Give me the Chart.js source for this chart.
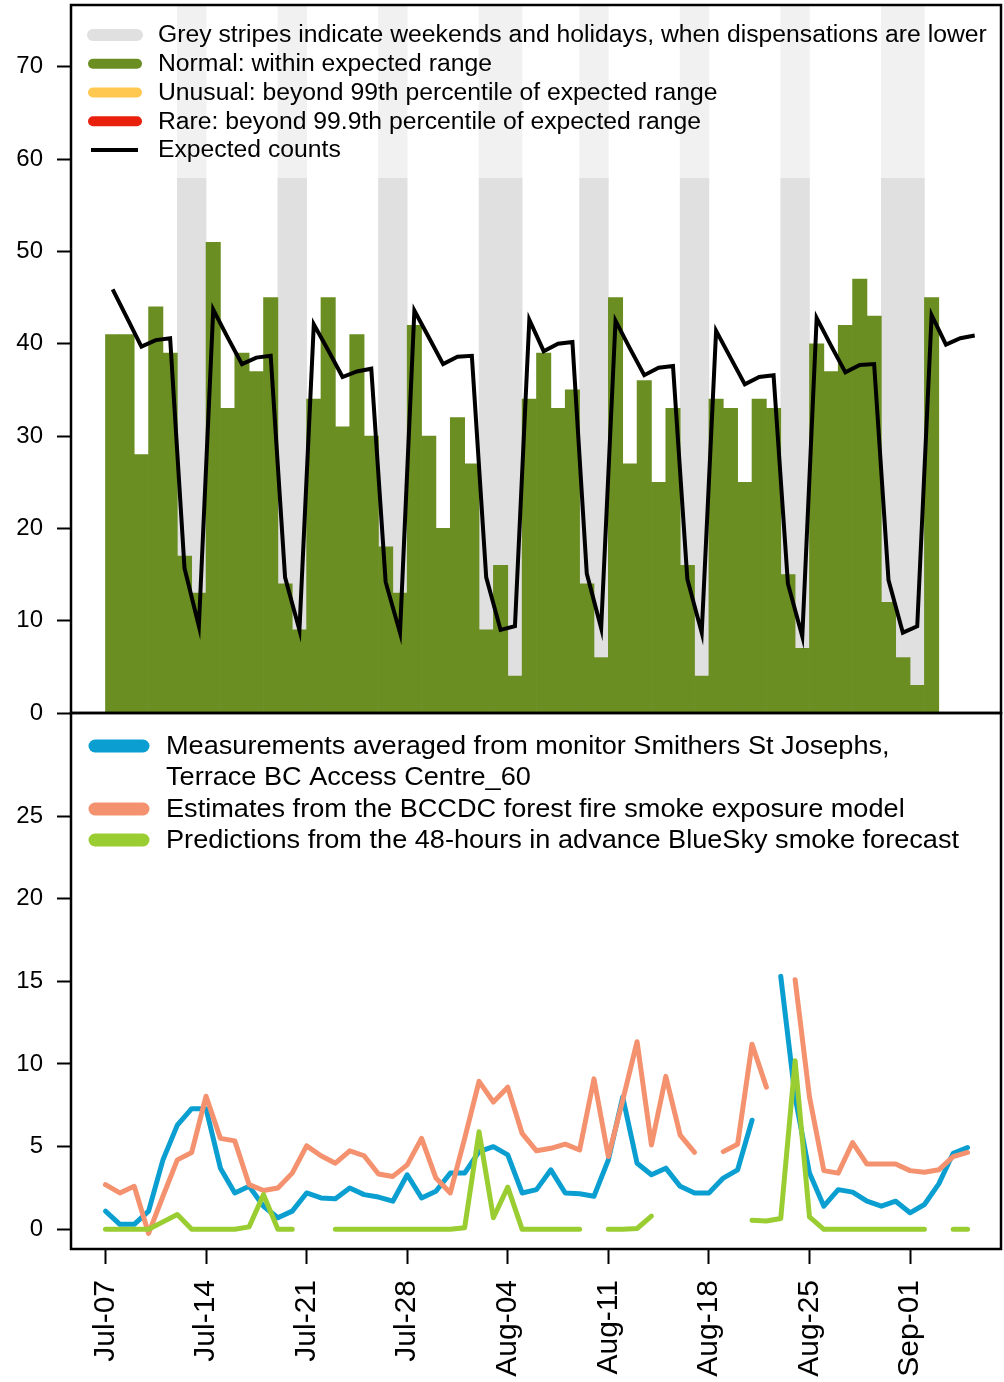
<!DOCTYPE html>
<html>
<head>
<meta charset="utf-8">
<title>Dispensations and smoke</title>
<script src="https://cdn.jsdelivr.net/npm/chart.js@4.4.1/dist/chart.umd.min.js"></script>
<style>
  html, body { margin: 0; padding: 0; background: #fff; }
  #wrap { position: relative; width: 1004px; height: 1382px; overflow: hidden; }
  #top { position: absolute; left: 0; top: 0; }
  #bottom { position: absolute; left: 0; top: 700px; }
</style>
</head>
<body>
<div id="wrap">
  <canvas id="top" width="1004" height="730"></canvas>
  <canvas id="bottom" width="1004" height="682"></canvas>
</div>
<script>
// ---- data (day index 0 = Jul-07) ----
const tickDays = [0, 7, 14, 21, 28, 35, 42, 49, 56];
const tickLabels = ['Jul-07', 'Jul-14', 'Jul-21', 'Jul-28', 'Aug-04', 'Aug-11', 'Aug-18', 'Aug-25', 'Sep-01'];
const topTicks = [0, 10, 20, 30, 40, 50, 60, 70];
const bottomTicks = [0, 5, 10, 15, 20, 25];

// weekends and holidays
const offDays = [5, 6, 12, 13, 19, 20, 26, 27, 28, 33, 34, 40, 41, 47, 48, 54, 55, 56];

// daily dispensation counts
const counts = [41, 41, 28, 44, 39, 17, 13, 51, 33, 39, 37, 45, 14, 9, 34, 45, 31, 41, 30, 18,
                13, 42, 30, 20, 32, 27, 9, 16, 4, 34, 39, 33, 35, 14, 6, 45, 27, 36, 25, 33,
                16, 4, 34, 33, 25, 34, 33, 15, 7, 40, 37, 42, 47, 43, 12, 6, 3, 45];

// expected counts
const expected = [45.9, 42.8, 39.7, 40.4, 40.6, 15.7, 9.4, 43.7, 40.7, 37.8, 38.5, 38.7, 14.7, 9.0, 42.1, 39.3,
                  36.4, 37.0, 37.3, 14.2, 8.7, 43.6, 40.7, 37.8, 38.6, 38.7, 14.7, 9.0, 9.4, 42.6, 39.2, 40.0,
                  40.2, 15.1, 9.2, 42.5, 39.5, 36.6, 37.4, 37.6, 14.5, 8.7, 41.4, 38.5, 35.6, 36.4, 36.6, 14.0,
                  8.3, 42.8, 39.8, 36.9, 37.7, 37.8, 14.4, 8.7, 9.4, 43.1, 39.9, 40.6, 40.9];

// PM2.5 series
const measured = [1.1, 0.3, 0.3, 1.1, 4.2, 6.3, 7.3, 7.3, 3.7, 2.2, 2.6, 1.4, 0.7, 1.1, 2.2, 1.9,
                  1.85, 2.5, 2.1, 1.95, 1.7, 3.3, 1.9, 2.3, 3.4, 3.4, 4.7, 5.0, 4.5, 2.2, 2.4, 3.6,
                  2.2, 2.15, 2.0, 4.2, 8.0, 4.0, 3.3, 3.7, 2.6, 2.2, 2.2, 3.1, 3.6, 6.6, null, 15.3,
                  8.0, 3.4, 1.4, 2.4, 2.25, 1.7, 1.4, 1.7, 1.0, 1.5, 2.75, 4.6, 4.95];
const modelled = [2.7, 2.2, 2.6, -0.25, 2.0, 4.2, 4.65, 8.05, 5.5, 5.35, 2.7, 2.35, 2.5, 3.4, 5.05, 4.45,
                  4.0, 4.75, 4.45, 3.35, 3.2, 3.9, 5.5, 3.1, 2.2, 5.5, 8.95, 7.7, 8.6, 5.8, 4.75, 4.9,
                  5.15, 4.8, 9.1, 4.4, 7.8, 11.35, 5.1, 9.25, 5.7, 4.65, null, 4.7, 5.15, 11.2, 8.6, null,
                  15.1, 8.0, 3.55, 3.4, 5.25, 3.95, 3.95, 3.95, 3.55, 3.45, 3.6, 4.4, 4.65];
const forecast = [0, 0, 0, 0, 0.45, 0.9, 0, 0, 0, 0, 0.15, 2.1, 0, 0, null, null,
                  0, 0, 0, 0, 0, 0, 0, 0, 0, 0.1, 5.9, 0.7, 2.55, 0, 0, 0,
                  0, 0, null, 0, 0, 0.05, 0.8, null, null, null, null, null, null, 0.55, 0.5, 0.65,
                  10.2, 0.75, 0, 0, 0, 0, 0, 0, 0, 0, null, 0, 0];

const X_MIN = -2.4;
const X_MAX = 62.33;
const TOP_MAX = 76.7;
const FONT = '"Liberation Sans", Arial, sans-serif';

// ---- helpers ----
function wideText(ctx, str, x, y, size, sx) {
    ctx.save();
    ctx.translate(x, y);
    ctx.scale(sx, 1);
    ctx.font = size + 'px ' + FONT;
    ctx.fillStyle = '#000';
    ctx.textBaseline = 'middle';
    ctx.textAlign = 'left';
    ctx.fillText(str, 0, 0);
    ctx.restore();
}

function swatch(ctx, x1, x2, y, color, width, cap) {
    ctx.save();
    ctx.strokeStyle = color;
    ctx.lineWidth = width;
    ctx.lineCap = cap || 'round';
    ctx.beginPath();
    ctx.moveTo(x1, y);
    ctx.lineTo(x2, y);
    ctx.stroke();
    ctx.restore();
}

const framePlugin = {
    id: 'frame',
    afterDraw(chart) {
        const { ctx, chartArea: a } = chart;
        ctx.save();
        ctx.strokeStyle = '#000';
        ctx.lineWidth = 2.5;
        ctx.strokeRect(a.left, a.top, a.right - a.left, a.bottom - a.top);
        ctx.restore();
    }
};

const topLegend = {
    id: 'topLegend',
    afterDatasetsDraw(chart) {
        const { ctx, chartArea: a } = chart;
        ctx.save();
        ctx.fillStyle = 'rgba(255,255,255,0.55)';
        ctx.fillRect(a.left, a.top, a.right - a.left, 178 - a.top);
        ctx.restore();

        const rows = [
            ['Grey stripes indicate weekends and holidays, when dispensations are lower', '#e0e0e0', 12, 'round'],
            ['Normal: within expected range', '#6b8e23', 10, 'round'],
            ['Unusual: beyond 99th percentile of expected range', '#ffc850', 10, 'round'],
            ['Rare: beyond 99.9th percentile of expected range', '#e8200c', 10, 'round'],
            ['Expected counts', '#000000', 4, 'butt']
        ];
        rows.forEach((r, i) => {
            const y = 35 + i * 28.75;
            if (r[3] === 'butt') swatch(ctx, 91, 138, y, r[1], r[2], 'butt');
            else swatch(ctx, 93, 137, y, r[1], r[2]);
            wideText(ctx, r[0], 158, y + 1, 23, 1.075);
        });
    }
};

const bottomLegend = {
    id: 'bottomLegend',
    afterDatasetsDraw(chart) {
        const ctx = chart.ctx;
        const off = 700;
        swatch(ctx, 95, 143, 746 - off, '#0a9fd0', 13);
        swatch(ctx, 95, 143, 809 - off, '#f4916e', 13);
        swatch(ctx, 95, 143, 840 - off, '#9acd32', 13);
        wideText(ctx, 'Measurements averaged from monitor Smithers St Josephs,', 166, 747 - off, 25, 1.085);
        wideText(ctx, 'Terrace BC Access Centre_60', 166, 778 - off, 25, 1.085);
        wideText(ctx, 'Estimates from the BCCDC forest fire smoke exposure model', 166, 810 - off, 25, 1.085);
        wideText(ctx, 'Predictions from the 48-hours in advance BlueSky smoke forecast', 166, 841 - off, 25, 1.085);
    }
};

function yAxis(min, max, ticks) {
    return {
        min: min,
        max: max,
        afterFit: (s) => { s.width = 71; s.paddingTop = 0; s.paddingBottom = 0; },
        afterBuildTicks: (s) => { s.ticks = ticks.map(v => ({ value: v })); },
        grid: { drawOnChartArea: false, drawTicks: true, tickLength: 14, tickWidth: 2, tickColor: '#000' },
        border: { display: false },
        ticks: { color: '#000', padding: 14, font: { family: FONT, size: 24 } }
    };
}

// ---- top panel: counts ----
new Chart(document.getElementById('top'), {
    data: {
        datasets: [
            {
                type: 'bar',
                data: offDays.map(d => ({ x: d + 0.5, y: TOP_MAX })),
                backgroundColor: '#e0e0e0',
                borderWidth: 0,
                grouped: false,
                barPercentage: 1,
                categoryPercentage: 1,
                order: 3
            },
            {
                type: 'bar',
                data: counts.map((v, d) => ({ x: d + 0.5, y: v })),
                backgroundColor: '#6b8e23',
                borderWidth: 0,
                grouped: false,
                barPercentage: 1,
                categoryPercentage: 1,
                order: 2
            },
            {
                type: 'line',
                data: expected.map((v, d) => ({ x: d + 0.5, y: v })),
                borderColor: '#000',
                borderWidth: 4,
                pointRadius: 0,
                tension: 0,
                order: 1
            }
        ]
    },
    options: {
        responsive: false,
        animation: false,
        layout: { padding: { top: 5, right: 3, bottom: 17, left: 0 } },
        plugins: { legend: { display: false }, tooltip: { enabled: false } },
        scales: {
            x: { type: 'linear', min: X_MIN, max: X_MAX, offset: false, display: false },
            y: yAxis(0, TOP_MAX, topTicks)
        }
    },
    plugins: [topLegend, framePlugin]
});

// ---- bottom panel: smoke ----
new Chart(document.getElementById('bottom'), {
    type: 'line',
    data: {
        datasets: [
            { data: forecast.map((v, d) => ({ x: d, y: v })), borderColor: '#9acd32', order: 1 },
            { data: modelled.map((v, d) => ({ x: d, y: v })), borderColor: '#f4916e', order: 2 },
            { data: measured.map((v, d) => ({ x: d, y: v })), borderColor: '#0a9fd0', order: 3 }
        ]
    },
    options: {
        responsive: false,
        animation: false,
        spanGaps: false,
        elements: {
            line: { borderWidth: 5, tension: 0, borderCapStyle: 'round', borderJoinStyle: 'round' },
            point: { radius: 0 }
        },
        layout: { padding: { top: 13, right: 3, bottom: 0, left: 0 } },
        plugins: { legend: { display: false }, tooltip: { enabled: false } },
        scales: {
            x: {
                type: 'linear',
                min: X_MIN,
                max: X_MAX,
                offset: false,
                afterFit: (s) => { s.height = 133; s.paddingLeft = 0; s.paddingRight = 0; },
                afterBuildTicks: (s) => { s.ticks = tickDays.map(v => ({ value: v })); },
                grid: { drawOnChartArea: false, drawTicks: true, tickLength: 15, tickWidth: 2, tickColor: '#000' },
                border: { display: false },
                ticks: {
                    color: '#000',
                    autoSkip: false,
                    minRotation: 90,
                    maxRotation: 90,
                    padding: 16,
                    font: { family: FONT, size: 30 },
                    callback: (v, i) => tickLabels[i]
                }
            },
            y: yAxis(-1.19, 31.23, bottomTicks)
        }
    },
    plugins: [bottomLegend, framePlugin]
});
</script>
</body>
</html>
